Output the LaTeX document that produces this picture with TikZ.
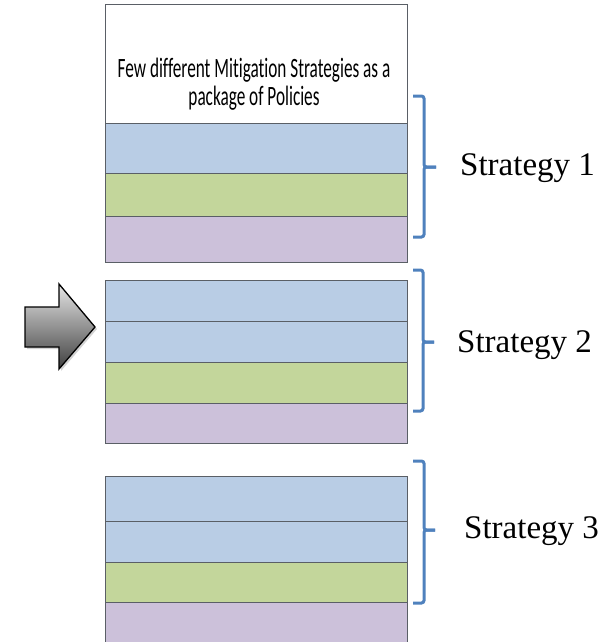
\documentclass[tikz,border=0pt]{standalone}
\usepackage{fontspec}
\setmainfont{Liberation Serif}
\newfontfamily\calib[FakeStretch=0.615, Ligatures={NoCommon}]{Carlito}
\usetikzlibrary{shadows}
\definecolor{layblue}{HTML}{B9CDE5}
\definecolor{laygreen}{HTML}{C3D69B}
\definecolor{laypurple}{HTML}{CCC1DA}
\definecolor{layline}{HTML}{5A5F66}
\definecolor{bracecol}{HTML}{4F81BD}
\begin{document}
\begin{tikzpicture}[x=1pt,y=-1pt,
  layer/.style={draw=layline, line width=1pt, anchor=north west, inner sep=0pt, outer sep=0pt,
    minimum width=302pt},
  bracepath/.style={draw=bracecol, line width=3pt, rounded corners=2.5pt},
  lbl/.style={anchor=base west, inner sep=0pt, font=\fontsize{33}{36}\selectfont}
]
\useasboundingbox (0,0) rectangle (615,642);
% block 1
\node[layer, fill=white, minimum height=118pt] (b1h) at (105,5) {};
\node[layer, fill=layblue, minimum height=50pt] (b1a) at (105,123) {};
\node[layer, fill=laygreen, minimum height=43pt] (b1b) at (105,173) {};
\node[layer, fill=laypurple, minimum height=46pt] (b1c) at (105,216) {};
\node[align=center, font=\calib\fontsize{28}{28}\selectfont, inner sep=0pt] (title) at (254,84)
  {Few different Mitigation Strategies as a\\package of Policies};
% block 2
\node[layer, fill=layblue, minimum height=41pt] (b2a) at (105,280) {};
\node[layer, fill=layblue, minimum height=41pt] (b2b) at (105,321) {};
\node[layer, fill=laygreen, minimum height=41pt] (b2c) at (105,362) {};
\node[layer, fill=laypurple, minimum height=40pt] (b2d) at (105,403) {};
% block 3
\node[layer, fill=layblue, minimum height=45pt] (b3a) at (105,476) {};
\node[layer, fill=layblue, minimum height=41pt] (b3b) at (105,521) {};
\node[layer, fill=laygreen, minimum height=40pt] (b3c) at (105,562) {};
\node[layer, fill=laypurple, minimum height=40pt] (b3d) at (105,602) {};
% labels
\node[lbl] (s1) at (460,175) {Strategy 1};
\node[lbl] (s2) at (457,352) {Strategy 2};
\node[lbl] (s3) at (464,538) {Strategy 3};
% braces
\coordinate (t1) at (436,167);
\coordinate (t2) at (434,342);
\coordinate (t3) at (435,530);
\draw[bracepath] (413,96) -- (424,96) -- (424,167) -- (t1);
\draw[bracepath] (t1) -- (424,167) -- (424,237) -- (413,237);
\draw[bracepath] (413,270) -- (423,270) -- (423,342) -- (t2);
\draw[bracepath] (t2) -- (423,342) -- (423,411) -- (413,411);
\draw[bracepath] (413,461) -- (424,461) -- (424,530) -- (t3);
\draw[bracepath] (t3) -- (424,530) -- (424,603) -- (413,603);
% arrow
\draw[black, line width=1.3pt, top color=gray!20, bottom color=black!75, line join=miter,
  drop shadow={shadow xshift=2pt, shadow yshift=-2pt, opacity=0.35}]
  (25,307) -- (59,307) -- (59,284) -- (95,327) -- (59,369) -- (59,347) -- (25,347) -- cycle;
\end{tikzpicture}
\end{document}
